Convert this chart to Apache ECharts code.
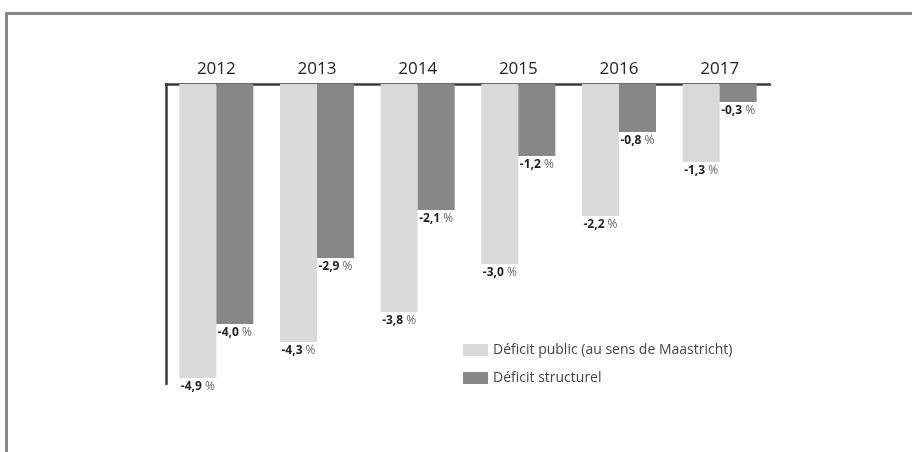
<!DOCTYPE html>
<html><head><meta charset="utf-8">
<script src="https://cdn.jsdelivr.net/npm/echarts@6/dist/echarts.min.js"></script>
<style>html,body{margin:0;padding:0;background:#fff}#c{width:912px;height:452px}</style>
</head><body><div id="c"></div>
<script>
const categories = ['2012','2013','2014','2015','2016','2017'];
const deficitPublic = [-4.9, -4.3, -3.8, -3.0, -2.2, -1.3];
const deficitStructurel = [-4.0, -2.9, -2.1, -1.2, -0.8, -0.3];
const seriesNames = ['Déficit public (au sens de Maastricht)', 'Déficit structurel'];

const fmt = v => '{b|' + v.toFixed(1).replace('.', ',') + '}{p| %}';
const lbl = {
  show: true, position: 'bottom', distance: 3,
  formatter: p => fmt(p.value),
  rich: {
    b: {fontFamily: 'Open Sans', fontWeight: 'bold', fontSize: 12, color: '#222'},
    p: {fontFamily: 'Open Sans', fontSize: 12, color: '#666'}
  }
};
const chart = echarts.init(document.getElementById('c'));
chart.setOption({
  animation: false,
  graphic: [
    {type: 'rect', shape: {x: 6.5, y: 13.5, width: 920, height: 460}, style: {fill: 'none', stroke: '#888888', lineWidth: 3}, silent: true}
  ],
  grid: {left: 166, top: 84, width: 604, height: 300},
  legend: {
    orient: 'vertical', left: 458, top: 338, itemWidth: 25, itemHeight: 12, itemGap: 14,
    icon: 'rect',
    textStyle: {fontFamily: 'Open Sans', fontSize: 14, color: '#444'},
    data: seriesNames
  },
  xAxis: {
    type: 'category', position: 'top', data: categories,
    axisLine: {lineStyle: {color: '#3a3a3a', width: 2.5}},
    axisTick: {show: false},
    axisLabel: {fontFamily: 'Open Sans', fontSize: 17, color: '#222', margin: 6}
  },
  yAxis: {
    type: 'value', min: -5, max: 0,
    axisLine: {show: true, lineStyle: {color: '#3a3a3a', width: 2.5}},
    axisTick: {show: false}, axisLabel: {show: false}, splitLine: {show: false}
  },
  series: [
    {name: seriesNames[0], type: 'bar', data: deficitPublic, barGap: '0%', barCategoryGap: '26.5%',
     itemStyle: {color: '#d9d9d9'}, label: lbl},
    {name: seriesNames[1], type: 'bar', data: deficitStructurel,
     itemStyle: {color: '#878787'}, label: lbl}
  ]
});
</script></body></html>
